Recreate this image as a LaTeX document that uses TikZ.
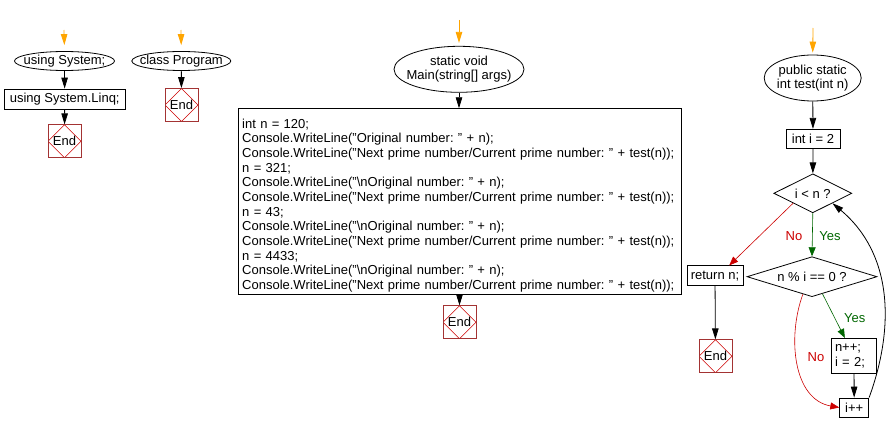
\documentclass[tikz,border=0pt]{standalone}
\usepackage{fontspec}
\setmainfont{Liberation Sans}
\usetikzlibrary{arrows.meta,shapes.geometric,calc}
\definecolor{flowred}{HTML}{CC0000}
\definecolor{flowgreen}{HTML}{006600}
\definecolor{endred}{HTML}{A33333}
\definecolor{startorange}{HTML}{FFA500}
\frenchspacing
\begin{document}
\begin{tikzpicture}[x=1pt, y=1pt, font=\fontsize{13}{14.67}\selectfont, line width=0.8pt, >={Triangle[length=11pt,width=6.5pt]},
	term/.style={ellipse, draw, inner xsep=-20pt, inner ysep=0pt, align=center},
	proc/.style={rectangle, draw, inner sep=2pt},
	cond/.style={diamond, draw, inner sep=0pt, aspect=2},
	endbox/.style={draw=endred, minimum size=33pt, inner sep=0pt, path picture={\draw[flowred, line width=0.5pt] (path picture bounding box.north)--(path picture bounding box.east)--(path picture bounding box.south)--(path picture bounding box.west)--cycle;}},
	entry/.style={->, startorange},
	yesarr/.style={->, flowgreen, line width=0.6pt, >={Triangle[length=9pt,width=7pt]}},
	noarr/.style={->, flowred, line width=0.6pt, >={Triangle[length=9pt,width=7pt]}}]
	\useasboundingbox (0,0) rectangle (892,-433);
	\path (64,-30) coordinate (sysin) (181,-30) coordinate (progin) (459,-20) coordinate (mainin) (813,-28) coordinate (testin);
	% using System;
	\node[term, minimum width=100pt, minimum height=19pt] (sys) at (64.5,-61) {using System;};
	\node[proc, minimum width=121pt, minimum height=20pt] (linq) at (64.7,-99) {using System.Linq;};
	% class Program
	\node[term, minimum width=99pt, minimum height=19pt] (prog) at (181.3,-61) {class Program};
	% Main
	\node[term, minimum width=130pt, minimum height=46pt] (main) at (459,-69.3) {static void\\Main(string[] args)};
	\node[proc, anchor=north west, text width=436pt, minimum height=182pt, inner xsep=3.5pt, align=left] (code) at (238.3,-108.3) {\rule{0pt}{17.5pt}int n = 120;\\
Console.WriteLine("Original number: " + n);\\
Console.WriteLine("Next prime number/Current prime number: " + test(n));\\
n = 321;\\
Console.WriteLine("\textbackslash nOriginal number: " + n);\\
Console.WriteLine("Next prime number/Current prime number: " + test(n));\\
n = 43;\\
Console.WriteLine("\textbackslash nOriginal number: " + n);\\
Console.WriteLine("Next prime number/Current prime number: " + test(n));\\
n = 4433;\\
Console.WriteLine("\textbackslash nOriginal number: " + n);\\
Console.WriteLine("Next prime number/Current prime number: " + test(n));};
	% test
	\node[term, minimum width=97pt, minimum height=46pt] (test) at (812.7,-78) {public static\\int test(int n)};
	\node[proc, minimum width=54pt, minimum height=19pt] (inti) at (813,-138.8) {int i = 2};
	\node[cond, minimum width=78pt, minimum height=39pt] (lessn) at (812.8,-193.3) {i < n ?};
	\node[cond, aspect=3, minimum width=130pt, minimum height=40pt] (modi) at (812,-276.7) {n \% i == 0 ?};
	\node[proc, minimum width=56pt, minimum height=20pt] (ret) at (715,-275.8) {return n;};
	\node[proc, text width=38pt, inner xsep=3.5pt, minimum height=35pt, align=left] (incn) at (854,-355.8) {n++;\\i = 2;};
	\node[proc, minimum width=29pt, minimum height=19pt] (inci) at (854.2,-407.5) {i++};
	\foreach \nm/\x/\y in {endA/64.5/-141.3, endB/181.5/-105, endC/459.5/-322.3, endD/715.5/-356.3}{
	\node[endbox] (\nm) at (\x,\y) {End};
	}
	% labels
	\node[flowred] (nolbl) at (794,-236.5) {No};
	\node[flowgreen] (yeslbl) at (830,-236.5) {Yes};
	\node[flowgreen] (yeslblb) at (854.8,-318) {Yes};
	\node[flowred] (nolblb) at (816,-357) {No};
	% arrows
	\draw[entry, shorten >=6pt] (sysin)--(sys.north);
	\draw[entry, shorten >=6pt] (progin)--(prog.north);
	\draw[entry, shorten >=3pt] (mainin)--(main.north);
	\draw[entry, shorten >=2pt] (testin)--(test.north);
	\draw[->] (sys)--(linq);
	\draw[->] (linq)--(endA);
	\draw[->] (prog)--(endB);
	\draw[->] (main)--(code.north -| main);
	\draw[->] (code.south -| endC)--(endC);
	\draw[->] (test)--(inti);
	\draw[->] (inti)--(lessn);
	\draw[->] (ret)--(endD);
	\draw[->] (incn)--(inci);
	\draw[yesarr] (lessn.south)--(modi.north);
	\draw[noarr] (lessn.south west)--($(ret.north)!0.5!(ret.north east)$);
	\draw[yesarr] ($(modi.south)!0.16!(modi.east)$)--($(incn.north west)!0.3!(incn.north east)$);
	\draw[noarr] ($(modi.west)!0.86!(modi.south)$) to[out=250, in=170] (inci.west);
	\draw[->] (inci.north east) to[out=70, in=-40] (lessn.south east);
\end{tikzpicture}
\end{document}
